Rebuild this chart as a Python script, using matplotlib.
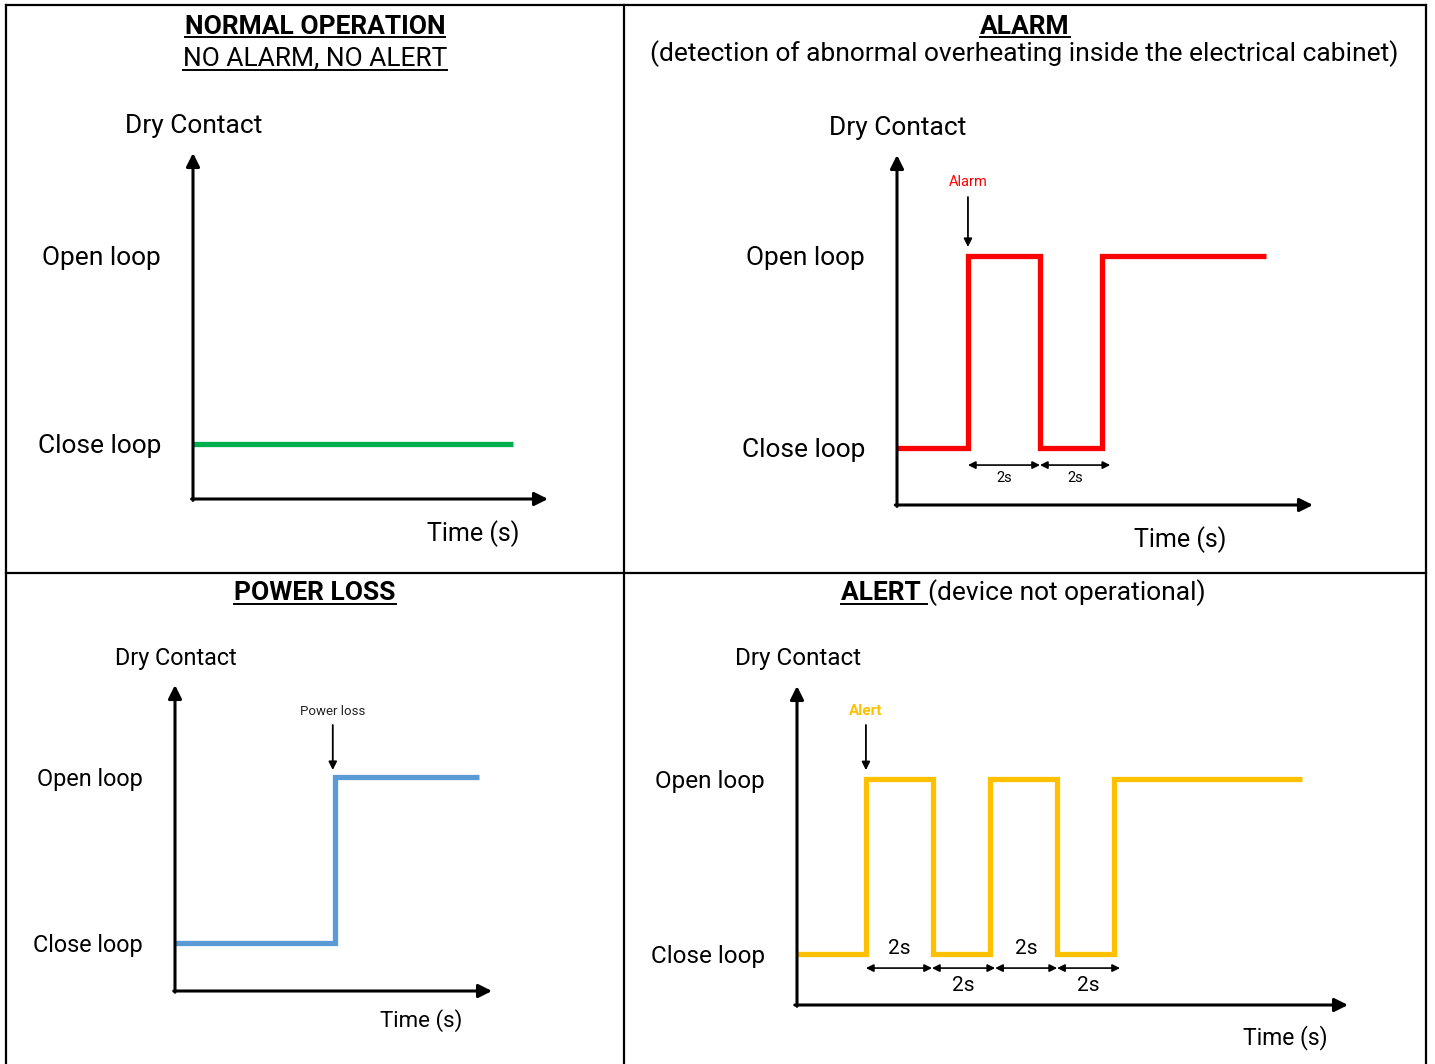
import matplotlib
matplotlib.use("Agg")
import matplotlib.pyplot as plt

plt.rcParams['font.family'] = ['Roboto', 'DejaVu Sans']

W, H = 1435, 1064

# Signals: time in seconds, state 0 = close loop, 1 = open loop
level_labels = ['Close loop', 'Open loop']

normal_t = [0, 9.0]
normal_state = [0, 0]

alarm_t = [0, 1.97, 3.97, 5.68, 10.25]
alarm_state = [0, 1, 0, 1, 1]
alarm_event = 1.97
alarm_marks = [1.97, 3.97, 5.92]          # "2s" dimension arrows

power_t = [0, 4.45, 8.45]
power_state = [0, 1, 1]
power_event = 4.38

alert_t = [0, 2.17, 4.28, 6.08, 8.19, 9.98, 15.9]
alert_state = [0, 1, 0, 1, 0, 1, 1]
alert_event = 2.17
alert_marks = [2.17, 4.25, 6.24, 8.19, 10.17]

GREEN, RED, BLUE, YELLOW = '#00B050', '#FF0000', '#5B9BD5', '#FFC000'

fig = plt.figure(figsize=(W / 100, H / 100), dpi=100)
frame = fig.add_axes([0, 0, 1, 1])
frame.set_xlim(0, W)
frame.set_ylim(H, 0)
frame.axis('off')

# table borders
for xs, ys in [([6, 1426], [5, 5]), ([6, 6], [5, 1064]), ([1426, 1426], [5, 1064]),
               ([624, 624], [5, 1064]), ([6, 1426], [573, 573])]:
    frame.plot(xs, ys, color='black', lw=1.6, solid_capstyle='projecting')


def panel(x0, x1, ybot, ytop, xlim, ylim, size, tsize, time_off):
    ax = fig.add_axes([x0 / W, 1 - ybot / H, (x1 - x0) / W, (ybot - ytop) / H])
    ax.set_xlim(*xlim)
    ax.set_ylim(*ylim)
    ax.patch.set_alpha(0)
    for s in ax.spines.values():
        s.set_visible(False)
    ax.set_xticks([])
    ax.set_yticks([0, 1], level_labels)
    ax.tick_params(axis='y', length=0, pad=23, labelsize=size)
    head = dict(arrowstyle='-|>', lw=2.2, color='black', mutation_scale=20,
                shrinkA=0, shrinkB=0)
    ax.annotate('', xy=(0, 1), xytext=(0, -0.004), xycoords='axes fraction',
                arrowprops=head, annotation_clip=False)
    ax.annotate('', xy=(1, 0), xytext=(-0.004, 0), xycoords='axes fraction',
                arrowprops=head, annotation_clip=False)
    ax.annotate('Dry Contact', xy=(0, 1), xycoords='axes fraction', xytext=(1, 27),
                textcoords='offset pixels', ha='center', va='center', fontsize=size)
    ax.annotate('Time (s)', xy=(1, 0), xycoords='axes fraction', xytext=time_off,
                textcoords='offset pixels', ha='center', va='center', fontsize=tsize)
    return ax


def signal(ax, t, state, color):
    ax.plot(t, state, drawstyle='steps-post', color=color, lw=3.8,
            solid_joinstyle='miter', solid_capstyle='butt', clip_on=False)


def event(ax, x, text, color, y0, y1, size, weight='normal'):
    ax.annotate('', xy=(x, y1), xytext=(x, y0),
                arrowprops=dict(arrowstyle='-|>', lw=1.3, color='black',
                                mutation_scale=12, shrinkA=0, shrinkB=0))
    ax.text(x, y0 + 0.08, text, color=color, fontsize=size, ha='center',
            va='center', fontweight=weight)


def marks(ax, xs, y, label_y, size):
    for i in range(len(xs) - 1):
        ax.annotate('', xy=(xs[i + 1], y), xytext=(xs[i], y),
                    arrowprops=dict(arrowstyle='<|-|>', lw=1.2, color='black',
                                    mutation_scale=11, shrinkA=0, shrinkB=0))
        ly = label_y[i % len(label_y)]
        ax.text((xs[i] + xs[i + 1]) / 2, ly, '2s', fontsize=size,
                ha='center', va='center')


# NORMAL OPERATION
ax1 = panel(193, 548, 499, 153, (0, 10), (-0.293, 1.547), 19, 18, (-75, -35))
signal(ax1, normal_t, normal_state, GREEN)

# ALARM
ax2 = panel(897, 1313, 505, 155, (0, 11.55), (-0.297, 1.526), 19, 18, (-133, -35))
signal(ax2, alarm_t, alarm_state, RED)
event(ax2, alarm_event, 'Alarm', RED, 1.307, 1.047, 10.5)
marks(ax2, alarm_marks, -0.089, [-0.156], 10.5)

# POWER LOSS
ax3 = panel(175, 492, 991, 685, (0, 8.8), (-0.289, 1.554), 16.8, 16, (-71, -30))
signal(ax3, power_t, power_state, BLUE)
event(ax3, power_event, 'Power loss', '#222222', 1.313, 1.042, 9.5)

# ALERT
ax4 = panel(797, 1348, 1005, 686, (0, 17.35), (-0.291, 1.532), 17.5, 16.5, (-63, -33))
signal(ax4, alert_t, alert_state, YELLOW)
event(ax4, alert_event, 'Alert', YELLOW, 1.309, 1.051, 11, weight='bold')
marks(ax4, alert_marks, -0.08, [0.034, -0.177], 15)

# titles
t1 = frame.text(315, 33.5, 'NORMAL OPERATION', ha='center', va='baseline',
                fontsize=19, fontweight='bold')
t1b = frame.text(315, 65.5, 'NO ALARM, NO ALERT', ha='center', va='baseline', fontsize=19)
t2 = frame.text(1025, 33.5, 'ALARM', ha='center', va='baseline',
                fontsize=19, fontweight='bold')
frame.text(1024, 61.5, '(detection of abnormal overheating inside the electrical cabinet)',
           ha='center', va='baseline', fontsize=19)
t3 = frame.text(315, 600, 'POWER LOSS', ha='center', va='baseline',
                fontsize=19, fontweight='bold')
t4 = frame.text(841, 600, 'ALERT ', ha='left', va='baseline',
                fontsize=19, fontweight='bold')

fig.canvas.draw()
inv = frame.transData.inverted()


def extent(txt):
    return txt.get_window_extent().transformed(inv)


bb4 = extent(t4)
frame.text(bb4.x1 + 1, 600, '(device not operational)', ha='left', va='baseline', fontsize=19)

for txt, y in [(t1, 37), (t1b, 69.5), (t2, 37), (t3, 603.5), (t4, 603.5)]:
    bb = extent(txt)
    frame.plot([bb.x0, bb.x1], [y, y], color='black', lw=1.4)

fig.savefig('out.png', dpi=100)
